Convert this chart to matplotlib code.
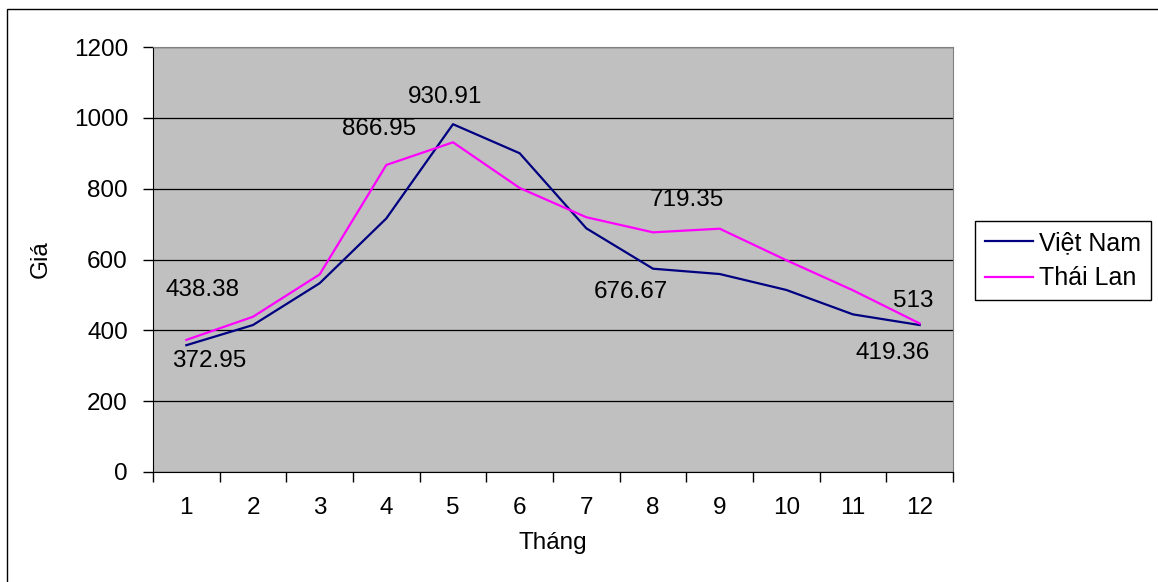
import matplotlib
matplotlib.use('Agg')
import matplotlib.pyplot as plt
from matplotlib.patches import Rectangle
from matplotlib.ticker import FixedLocator, NullFormatter

plt.rcParams['font.family'] = ['Liberation Sans', 'DejaVu Sans']

months = [1, 2, 3, 4, 5, 6, 7, 8, 9, 10, 11, 12]
viet_nam = [358, 415, 533, 716, 982, 900, 688, 574, 559, 514, 445, 415]
thai_lan = [372.95, 438.38, 558, 866.95, 930.91, 802, 719.35, 676.67, 687, 598, 513, 419.36]
y_ticks = [0, 200, 400, 600, 800, 1000, 1200]

# months whose Thai price gets a text label, with the label shift in pixels
label_shift = {1: (23, -21), 2: (-50, 27), 4: (-7, 36), 5: (-8, 45),
               7: (101, 17), 8: (-22, -60), 11: (60, -11), 12: (-27, -30)}

W, H = 1158, 582
fig = plt.figure(figsize=(W / 100, H / 100), dpi=100)
# chart border, running off the right and bottom edges
fig.patches.append(Rectangle((7.5 / W, -0.1), 1.2, 1.1 - 8.5 / H,
                             transform=fig.transFigure, fill=False,
                             edgecolor='black', linewidth=1.0))

ax = fig.add_axes([153 / W, 110 / H, 800 / W, 425 / H])
ax.set_facecolor('#C0C0C0')

ax.plot(months, viet_nam, color='#000080', lw=1.6, label='Việt Nam')
ax.plot(months, thai_lan, color='#FF00FF', lw=1.6, label='Thái Lan')

for m, (dx, dy) in label_shift.items():
    v = thai_lan[m - 1]
    ax.annotate(f'{v:g}', (m, v), xytext=(dx, dy), textcoords='offset pixels',
                ha='center', va='center', fontsize=17.5, color='black')

ax.set_xlim(0.5, 12.5)
ax.set_ylim(0, 1200)
ax.set_yticks(y_ticks)
ax.yaxis.grid(True, color='black', lw=0.9)
ax.set_axisbelow(True)

ax.xaxis.set_major_locator(FixedLocator([m - 0.5 for m in months] + [12.5]))
ax.xaxis.set_major_formatter(NullFormatter())
ax.xaxis.set_minor_locator(FixedLocator(months))
ax.set_xticklabels([str(m) for m in months], minor=True)
ax.tick_params(axis='x', which='major', length=7, width=1, direction='out')
ax.tick_params(axis='x', which='minor', length=0, pad=18, labelsize=17.5)
ax.tick_params(axis='y', length=7, width=1, pad=11, labelsize=17.5)

for s in ['top', 'right']:
    ax.spines[s].set_color('#808080')
for s in ['left', 'bottom']:
    ax.spines[s].set_color('black')

ax.set_xlabel('Tháng', fontsize=17.5, labelpad=9)
ax.set_ylabel('Giá', fontsize=17.5, labelpad=16)

leg = fig.legend(loc='upper left', bbox_to_anchor=(975 / W, 1 - 221 / H),
                 fontsize=18, frameon=True, fancybox=False, edgecolor='black',
                 framealpha=1, handlelength=1.9, handletextpad=0.25,
                 borderpad=0.4, labelspacing=0.45, borderaxespad=0)
leg.get_frame().set_linewidth(1.0)

fig.savefig('out.png', dpi=100)
